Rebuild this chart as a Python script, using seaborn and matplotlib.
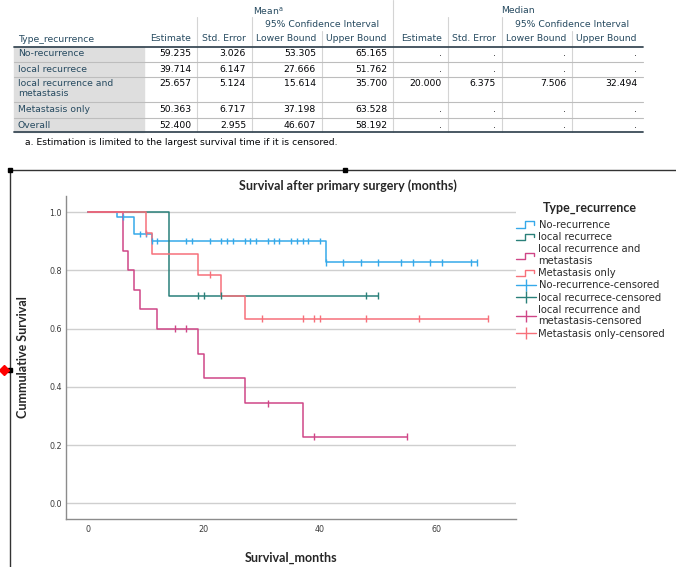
import numpy as np
import pandas as pd
import matplotlib
matplotlib.use("Agg")
import matplotlib.pyplot as plt
import seaborn as sns
from matplotlib.legend_handler import HandlerBase
from matplotlib.lines import Line2D
from matplotlib.patches import Rectangle

# -----------------------------
# 1. Table values
# -----------------------------
groups = ["No-recurrence", "local recurrece", "local recurrence and\nmetastasis",
          "Metastasis only", "Overall"]
mean_est = [59.235, 39.714, 25.657, 50.363, 52.400]
mean_se = [3.026, 6.147, 5.124, 6.717, 2.955]
mean_lo = [53.305, 27.666, 15.614, 37.198, 46.607]
mean_hi = [65.165, 51.762, 35.700, 63.528, 58.192]
median_est = [None, None, 20.000, None, None]
median_se = [None, None, 6.375, None, None]
median_lo = [None, None, 7.506, None, None]
median_hi = [None, None, 32.494, None, None]

# -----------------------------
# 2. Kaplan-Meier curves
# -----------------------------
curve_names = ["No-recurrence", "local recurrece", "local recurrence and\nmetastasis",
               "Metastasis only"]
colors = ["#36a9ea", "#2a807a", "#cf4687", "#f7707a"]

norec_t = [0, 5, 8, 11, 41, 67]
norec_s = [1.0, 0.983, 0.925, 0.902, 0.828, 0.828]
norec_cens = [6, 9, 10, 11, 12, 17, 18, 21, 23, 24, 25, 27, 28, 29, 31, 32, 33,
              35, 36, 37, 38, 40, 41, 44, 47, 50, 54, 56, 59, 61, 66, 67]

local_t = [0, 14, 50]
local_s = [1.0, 0.714, 0.714]
local_cens = [19, 20, 23, 48, 50]

locmet_t = [0, 6, 7, 8, 9, 12, 19, 20, 27, 37, 55]
locmet_s = [1.0, 0.867, 0.800, 0.733, 0.667, 0.600, 0.514, 0.429, 0.343, 0.229, 0.229]
locmet_cens = [15, 17, 31, 39, 55]

met_t = [0, 10, 11, 19, 23, 27, 69]
met_s = [1.0, 0.929, 0.857, 0.786, 0.714, 0.635, 0.635]
met_cens = [10, 21, 30, 37, 39, 40, 48, 57, 69]

curves = [(norec_t, norec_s, norec_cens), (local_t, local_s, local_cens),
          (locmet_t, locmet_s, locmet_cens), (met_t, met_s, met_cens)]


def surv_at(times, survs, t):
    idx = np.searchsorted(times, t, side="right") - 1
    return np.asarray(survs)[idx]


curve_rows = []
cens_rows = []
for name, (t, s, c) in zip(curve_names, curves):
    for ti, si in zip(t, s):
        curve_rows.append({"group": name, "time": ti, "surv": si})
    for ci in c:
        cens_rows.append({"group": name, "time": ci, "surv": surv_at(t, s, ci)})
curve_df = pd.DataFrame(curve_rows)
cens_df = pd.DataFrame(cens_rows)
palette = dict(zip(curve_names, colors))

# -----------------------------
# 3. Figure + page overlay (pixel coordinates)
# -----------------------------
sns.set_style("white")
plt.rcParams["font.family"] = ["DejaVu Sans"]

W, H = 676, 567
fig = plt.figure(figsize=(W / 100, H / 100), dpi=100)
page = fig.add_axes([0, 0, 1, 1], zorder=0)
page.set_xlim(0, W)
page.set_ylim(H, 0)
page.axis("off")

head_col = "#264a60"
num_col = "#010205"
tfs = 6.7
edges = [14, 144, 197, 252, 322, 393, 448, 502, 572, 643]

# label column shading
page.add_patch(Rectangle((edges[0], 46.7), edges[1] - edges[0], 132.3 - 46.7,
                         color="#dedede", zorder=0))

# header text
page.text((edges[1] + edges[5]) / 2, 10.7, r"Mean$^{\mathrm{a}}$", ha="center", va="center",
          fontsize=tfs, color=head_col)
page.text((edges[5] + edges[9]) / 2, 10.7, "Median", ha="center", va="center",
          fontsize=tfs, color=head_col)
for a, b in [(edges[3], edges[5]), (edges[7], edges[9])]:
    page.text((a + b) / 2, 24.3, "95% Confidence Interval", ha="center", va="center",
              fontsize=tfs, color=head_col)
page.text(18, 40, "Type_recurrence", ha="left", va="center", fontsize=tfs, color=head_col)
sub_heads = ["Estimate", "Std. Error", "Lower Bound", "Upper Bound"] * 2
for i, lab in enumerate(sub_heads):
    page.text(edges[i + 2] - 6, 38.8, lab, ha="right", va="center", fontsize=tfs,
              color=head_col)

# header grid lines
vline_col = "#d4d4d4"
page.plot([edges[5], edges[5]], [0, 46.7], color=vline_col, lw=0.8)
for x in [edges[2], edges[3], edges[6], edges[7]]:
    page.plot([x, x], [17, 46.7], color=vline_col, lw=0.8)
for x in [edges[4], edges[8]]:
    page.plot([x, x], [31, 46.7], color=vline_col, lw=0.8)

# body
row_y = [54, 69.7, 84, 110, 126]
columns = [mean_est, mean_se, mean_lo, mean_hi, median_est, median_se, median_lo, median_hi]
for r, (g, y) in enumerate(zip(groups, row_y)):
    for k, line in enumerate(g.split("\n")):
        page.text(18, y + k * 10, line, ha="left", va="center", fontsize=tfs, color=head_col)
    for j, col in enumerate(columns):
        v = col[r]
        txt = "." if v is None else f"{v:.3f}"
        page.text(edges[j + 2] - 6, y, txt, ha="right", va="center", fontsize=tfs,
                  color=num_col)

for x in edges[2:9]:
    page.plot([x, x], [46.7, 132.3], color=vline_col, lw=0.8)
for y in [61.7, 76.7, 102.3, 117.7]:
    page.plot([edges[0], edges[9]], [y, y], color="#bdbdbd", lw=0.8)
for y in [46.7, 132.3]:
    page.plot([edges[0], edges[9]], [y, y], color="#3b4b57", lw=1.3)

page.text(25, 142.7, "a. Estimation is limited to the largest survival time if it is censored.",
          ha="left", va="center", fontsize=tfs, color=num_col)

# selection frame of the output viewer
page.plot([10, W], [170, 170], color="#333333", lw=1)
page.plot([10, 10], [170, H], color="#333333", lw=1)
page.plot([10, 345, 10], [170, 170, 370], "s", ms=3, color="black")
page.plot([4], [370], marker="D", ms=5, color="red")

# -----------------------------
# 4. Survival plot
# -----------------------------
ax = fig.add_axes([65.7 / W, 48 / H, 450 / W, 323 / H], zorder=2)
ax.patch.set_alpha(0)

sns.lineplot(data=curve_df, x="time", y="surv", hue="group", palette=palette,
             hue_order=curve_names, estimator=None, drawstyle="steps-post",
             linewidth=1.1, legend=False, ax=ax)
sns.scatterplot(data=cens_df, x="time", y="surv", hue="group", palette=palette,
                hue_order=curve_names, marker="|", s=22, linewidth=1,
                legend=False, ax=ax, zorder=3)

ax.set_xlim(-3.8, 73.7)
ax.set_ylim(-0.054, 1.056)
ax.set_xticks([0, 20, 40, 60])
ax.set_yticks([0, 0.2, 0.4, 0.6, 0.8, 1.0])
ax.set_yticklabels([f"{v:.1f}" for v in [0, 0.2, 0.4, 0.6, 0.8, 1.0]])
ax.grid(axis="y", color="#cfcfcf", lw=1)
ax.set_axisbelow(True)
for sp in ["top", "right"]:
    ax.spines[sp].set_visible(False)
for sp in ["left", "bottom"]:
    ax.spines[sp].set_color("#8c8c8c")
    ax.spines[sp].set_linewidth(1)
ax.tick_params(length=0, labelsize=5.8, colors="#3c3c3c")
ax.tick_params(axis="x", pad=4)
ax.tick_params(axis="y", pad=2.7)

bold = dict(family="Lato", weight="bold", size=9)
ax.set_xlabel("Survival_months", fontdict=bold)
ax.set_ylabel("Cummulative Survival", fontdict=bold)
ax.xaxis.set_label_coords(0.5, -0.101)
ax.yaxis.set_label_coords(-0.0816, 0.5)
page.text(348, 186, "Survival after primary surgery (months)", ha="center", va="center",
          **bold)


# -----------------------------
# 5. Legend
# -----------------------------
class StepHandler(HandlerBase):
    def create_artists(self, legend, orig_handle, xdescent, ydescent, width, height,
                       fontsize, trans):
        x0 = -xdescent
        xs = [x0, x0 + 0.45 * width, x0 + 0.45 * width, x0 + 0.9 * width, x0 + 0.9 * width]
        ys = [0.05 * height, 0.05 * height, 0.95 * height, 0.95 * height, 0.5 * height]
        ln = Line2D(xs, ys, color=orig_handle.get_color(), lw=1)
        ln.set_transform(trans)
        return [ln]


step_handles = [Line2D([], [], color=c) for c in colors]
cens_handles = [Line2D([0], [0], color=c, lw=1, marker="|", markersize=8, mew=1)
                for c in colors]
labels = curve_names + [n + "-censored" for n in curve_names]
ax.legend(step_handles + cens_handles, labels, loc="upper left",
          bbox_to_anchor=(516 / W, 1 - 220 / H), bbox_transform=fig.transFigure,
          frameon=False, fontsize=7.2, handlelength=2.0, handletextpad=0.25,
          labelspacing=0.22, borderpad=0, borderaxespad=0, labelcolor="#2b2b2b",
          handler_map={h: StepHandler() for h in step_handles})
page.text(542.7, 207.7, "Type_recurrence", ha="left", va="center", **bold)

fig.savefig("out.png", dpi=100)
